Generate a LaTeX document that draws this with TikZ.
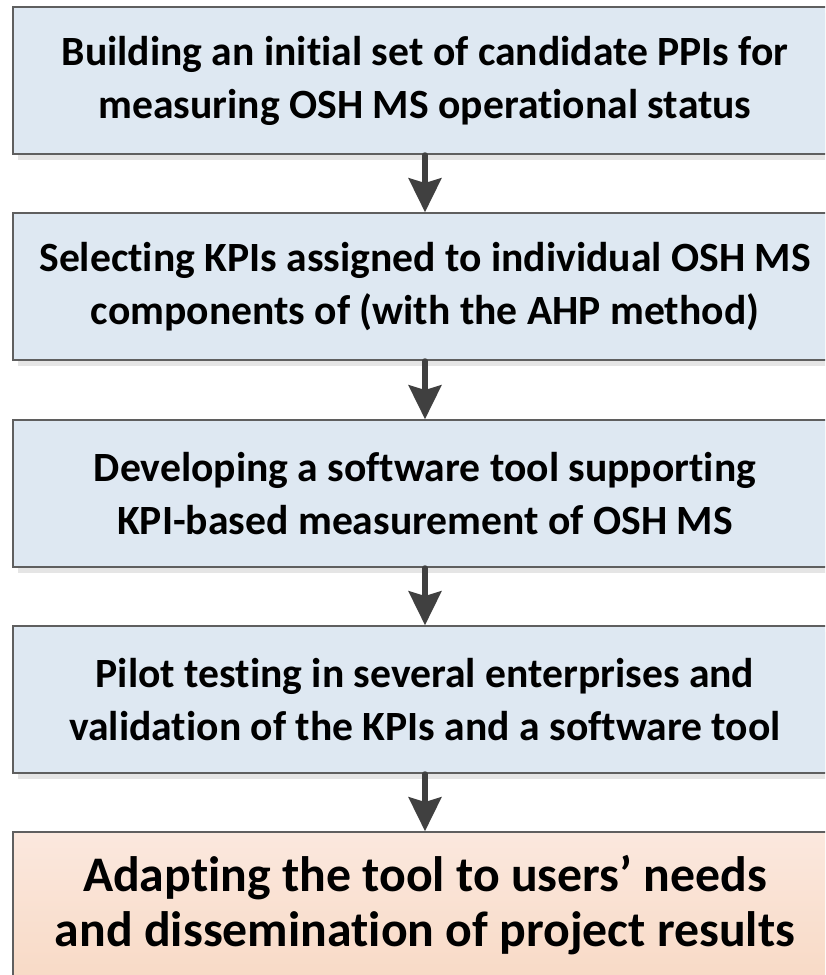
\documentclass[tikz,border=0pt]{standalone}
\usepackage{fontspec}
\setmainfont{Carlito}[Ligatures=NoCommon]
\usetikzlibrary{positioning,arrows.meta,shadows}
\definecolor{cStep} {RGB}{222,232,242}
\definecolor{cLastT}{RGB}{251,232,222}
\definecolor{cLastB}{RGB}{248,218,198}
\definecolor{cEdge} {RGB}{ 95, 95, 95}
\definecolor{cShad} {RGB}{229,229,229}
\definecolor{cArr}  {RGB}{ 64, 64, 64}

\begin{document}
\begin{tikzpicture}[x=0.025cm, y=-0.025cm]

%% ── shared styles ─────────────────────────────────────────────────────────
\tikzset{
  stepbox/.style={
    rectangle, minimum width=20.6cm, minimum height=3.675cm,
    align=center, inner sep=0pt,
    font=\bfseries\fontsize{29.6}{37.7}\selectfont,
    draw=cEdge, fill=cStep, line width=1.1pt,
    drop shadow={shadow xshift=0.13cm, shadow yshift=-0.15cm,
                 opacity=1, fill=cShad}
  },
  lastbox/.style={
    rectangle, minimum width=20.6cm, minimum height=3.675cm,
    align=center, inner sep=0pt,
    font=\bfseries\fontsize{35.4}{39.1}\selectfont,
    draw=cEdge, top color=cLastT, bottom color=cLastB, line width=1.1pt
  },
  arr/.style={-{Stealth[length=0.85cm, width=0.82cm, inset=0.12cm]},
              line width=3.6pt, line cap=round, cArr},
}

%% ── frame ─────────────────────────────────────────────────────────────────
\useasboundingbox (0,0) rectangle (825,975);
\clip (0,0) rectangle (825,975);

%% ── box centres ───────────────────────────────────────────────────────────
\def\cx{425}

%% ══════════════════════════════════════════════════════════════════════════
%% STEPS
%% ══════════════════════════════════════════════════════════════════════════
\node[stepbox] (S1) at (\cx, 80.5)
  {Building an initial set of candidate PPIs for\\measuring OSH MS operational status};
\node[stepbox] (S2) at (\cx,286.5)
  {Selecting KPIs assigned to individual OSH MS\\components of (with the AHP method)};
\node[stepbox] (S3) at (\cx,493.5)
  {Developing a software tool supporting\\KPI-based measurement of OSH MS};
\node[stepbox] (S4) at (\cx,699.5)
  {Pilot testing in several enterprises and\\validation of the KPIs and a software tool};
\node[lastbox] (S5) at (\cx,905.5)
  {Adapting the tool to users’ needs\\and dissemination of project results};

\draw[arr] (S1)--(S2);
\draw[arr] (S2)--(S3);
\draw[arr] (S3)--(S4);
\draw[arr] (S4)--(S5);

\end{tikzpicture}
\end{document}
